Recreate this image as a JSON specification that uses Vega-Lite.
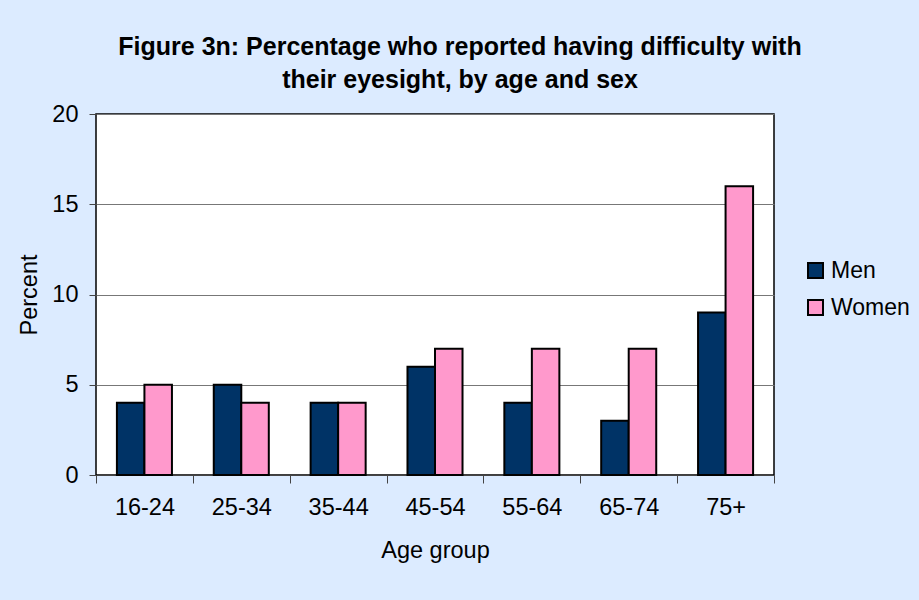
{
  "$schema": "https://vega.github.io/schema/vega-lite/v6.json",
  "autosize": "none",
  "width": 678,
  "height": 361,
  "padding": {"left": 96, "top": 114, "right": 145, "bottom": 125},
  "background": "#DCEBFF",
  "config": {
    "font": "Liberation Sans",
    "view": {"fill": "white", "stroke": "black", "strokeWidth": 1.5}
  },
  "title": {
    "text": ["Figure 3n: Percentage who reported having difficulty with", "their eyesight, by age and sex"],
    "font": "Liberation Sans",
    "fontSize": 25,
    "fontWeight": "bold",
    "color": "black",
    "anchor": "middle",
    "frame": "group",
    "dx": 25,
    "offset": 9,
    "lineHeight": 33
  },
  "data": {
    "values": [
      {"age": "16-24", "sex": "Men", "pct": 4},
      {"age": "16-24", "sex": "Women", "pct": 5},
      {"age": "25-34", "sex": "Men", "pct": 5},
      {"age": "25-34", "sex": "Women", "pct": 4},
      {"age": "35-44", "sex": "Men", "pct": 4},
      {"age": "35-44", "sex": "Women", "pct": 4},
      {"age": "45-54", "sex": "Men", "pct": 6},
      {"age": "45-54", "sex": "Women", "pct": 7},
      {"age": "55-64", "sex": "Men", "pct": 4},
      {"age": "55-64", "sex": "Women", "pct": 7},
      {"age": "65-74", "sex": "Men", "pct": 3},
      {"age": "65-74", "sex": "Women", "pct": 7},
      {"age": "75+", "sex": "Men", "pct": 9},
      {"age": "75+", "sex": "Women", "pct": 16}
    ]
  },
  "mark": {"type": "bar", "stroke": "black", "strokeWidth": 2},
  "encoding": {
    "x": {
      "field": "age",
      "type": "nominal",
      "sort": null,
      "scale": {"paddingInner": 0, "paddingOuter": 0},
      "axis": {
        "title": "Age group",
        "titleFontSize": 23.5,
        "titleFontWeight": "normal",
        "titleColor": "black",
        "titlePadding": 20,
        "labelFontSize": 23.5,
        "labelColor": "black",
        "labelAngle": 0,
        "labelPadding": 12,
        "tickBand": "extent",
        "tickSize": 8,
        "tickColor": "#444",
        "domainColor": "#444",
        "grid": false
      }
    },
    "xOffset": {
      "field": "sex",
      "type": "nominal",
      "scale": {"paddingInner": 0, "paddingOuter": 0.76}
    },
    "y": {
      "field": "pct",
      "type": "quantitative",
      "scale": {"domain": [0, 20]},
      "axis": {
        "title": "Percent",
        "titleFontSize": 23.5,
        "titleFontWeight": "normal",
        "titleColor": "black",
        "titlePadding": 10,
        "values": [0, 5, 10, 15, 20],
        "labelFontSize": 23.5,
        "labelColor": "black",
        "labelPadding": 11,
        "tickSize": 7,
        "tickColor": "#444",
        "domain": false,
        "gridColor": "#777777",
        "gridWidth": 1
      }
    },
    "fill": {
      "field": "sex",
      "type": "nominal",
      "scale": {"domain": ["Men", "Women"], "range": ["#003366", "#FF99CC"]},
      "legend": {
        "title": null,
        "orient": "none",
        "legendX": 708,
        "legendY": 145,
        "symbolType": "square",
        "symbolSize": 225,
        "symbolStrokeColor": "black",
        "symbolStrokeWidth": 2,
        "symbolOpacity": 1,
        "labelFontSize": 23,
        "labelColor": "black",
        "labelOffset": 4,
        "rowPadding": 13
      }
    }
  }
}
